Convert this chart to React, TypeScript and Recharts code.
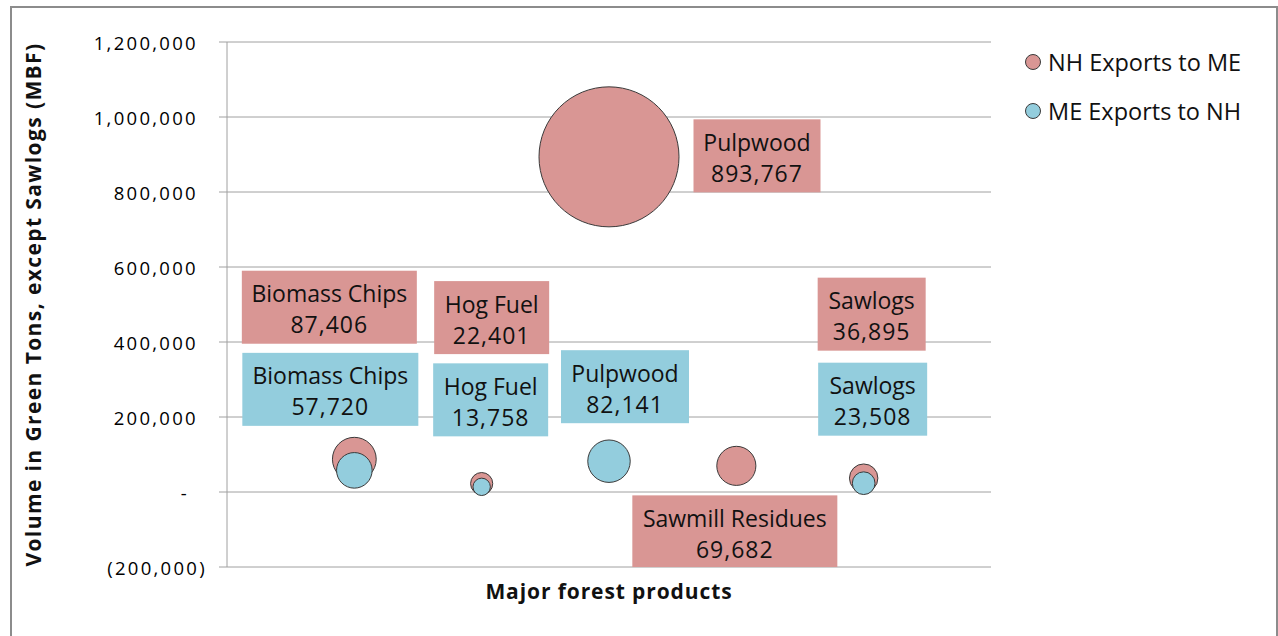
import React from 'react';
import { ScatterChart, Scatter, XAxis, YAxis, ZAxis, CartesianGrid } from 'recharts';

// ---------- data ----------
const categories = ['Biomass Chips', 'Hog Fuel', 'Pulpwood', 'Sawmill Residues', 'Sawlogs'];
const categoryPositions = [1, 2, 3, 4, 5];
const nhExportsToMe: (number | null)[] = [87406, 22401, 893767, 69682, 36895];
const meExportsToNh: (number | null)[] = [57720, 13758, 82141, null, 23508];
const seriesNames = ['NH Exports to ME', 'ME Exports to NH'];
const yTicks = [-200000, 0, 200000, 400000, 600000, 800000, 1000000, 1200000];
const yTickLabels = ['(200,000)', '-', '200,000', '400,000', '600,000', '800,000', '1,000,000', '1,200,000'];
const xAxisTitle = 'Major forest products';
const yAxisTitle = 'Volume in Green Tons, except Sawlogs (MBF)';

// ---------- style / layout ----------
const PINK = '#D99694';
const BLUE = '#93CDDD';
const GRID = '#A0A0A0';
const FONT = '"Open Sans", "DejaVu Sans", sans-serif';
const MAX_R = 70;

// label box placement relative to bubble centre (layout only)
const nhLabelLayout = [
  { dx: -25, dy: -152, w: 175 },
  { dx: 10, dy: -166, w: 115 },
  { dx: 148, dy: -1, w: 127 },
  { dx: -1.5, dy: 66, w: 205 },
  { dx: 8, dy: -164, w: 108 },
];
const meLabelLayout = [
  { dx: -24, dy: -81, w: 176 },
  { dx: 9, dy: -87, w: 115 },
  { dx: 16, dy: -74.5, w: 128 },
  null,
  { dx: 9, dy: -84, w: 109 },
];

const fmt = (v: number) => v.toLocaleString('en-US');

const buildSeries = (values: (number | null)[]) =>
  categories
    .map((name, i) => ({ name, x: categoryPositions[i], y: values[i], z: values[i], idx: i }))
    .filter((d) => d.y !== null);

const nhData = buildSeries(nhExportsToMe);
const meData = buildSeries(meExportsToNh);
const maxZ = Math.max(...(nhExportsToMe.filter((v) => v !== null) as number[]), ...(meExportsToNh.filter((v) => v !== null) as number[]));

const makeShape = (fill: string, layout: any[]) => (props: any) => {
  const { cx, cy, width, payload } = props;
  const r = width / 2;
  const lay = layout[payload.idx];
  return (
    <g>
      <circle cx={cx} cy={cy} r={r} fill={fill} stroke="#3a3a3a" strokeWidth={1} />
      {lay && (
        <g>
          <rect x={cx + lay.dx - lay.w / 2} y={cy + lay.dy - 36.5} width={lay.w} height={73} fill={fill} />
          <text x={cx + lay.dx} y={cy + lay.dy - 14} textAnchor="middle" dominantBaseline="central"
            fontFamily={FONT} fontSize={23} fill="#111">{payload.name}</text>
          <text x={cx + lay.dx} y={cy + lay.dy + 17} textAnchor="middle" dominantBaseline="central"
            fontFamily={FONT} fontSize={23} fill="#111" letterSpacing={1}>{fmt(payload.y)}</text>
        </g>
      )}
    </g>
  );
};

const YTick = (props: any) => {
  const { x, y, payload } = props;
  const i = yTicks.indexOf(payload.value);
  const label = yTickLabels[i];
  let endX = x - 19;
  if (label.endsWith(')')) endX = x - 10;
  else if (label === '-') endX = x - 28;
  return (
    <text x={endX} y={y} textAnchor="end" dominantBaseline="central" fontFamily={FONT} fontSize={18.5}
      letterSpacing={2.3} fill="#000">{label}</text>
  );
};

const YTitle = (props: any) => {
  const vb = props.viewBox;
  const cx = vb.x + 33;
  const cy = vb.y + vb.height / 2;
  return (
    <text x={cx} y={cy} transform={`rotate(-90, ${cx}, ${cy})`} textAnchor="middle" dominantBaseline="central"
      fontFamily={FONT} fontSize={21} fontWeight="bold" letterSpacing={1.4} fill="#111">{yAxisTitle}</text>
  );
};

const XTitle = (props: any) => {
  const vb = props.viewBox;
  const cx = vb.x + vb.width / 2;
  const cy = vb.y + 24;
  return (
    <text x={cx} y={cy} textAnchor="middle" dominantBaseline="central"
      fontFamily={FONT} fontSize={21} fontWeight="bold" letterSpacing={0.9} fill="#111">{xAxisTitle}</text>
  );
};

export default function App() {
  return (
    <div style={{ position: 'absolute', left: 0, top: 0, width: 1278, height: 636, overflow: 'hidden', background: '#fff' }}>
      <div style={{ position: 'absolute', left: 10, top: 6, width: 1264, height: 700, border: '2px solid #8c8c8c', boxSizing: 'content-box' }} />
      <div style={{ position: 'absolute', left: 0, top: 0 }}>
        <ScatterChart width={1278} height={636} margin={{ top: 42, right: 287, bottom: 0, left: 0 }}>
          <CartesianGrid horizontal vertical={false} stroke={GRID} strokeWidth={1} />
          <XAxis type="number" dataKey="x" domain={[0, 6]} allowDataOverflow height={69}
            axisLine={false} tickLine={false} tick={false} label={<XTitle />} />
          <YAxis type="number" dataKey="y" domain={[-200000, 1200000]} ticks={yTicks} width={227}
            allowDataOverflow tickSize={8} tickLine={{ stroke: GRID }} axisLine={{ stroke: GRID }}
            tick={<YTick />} label={<YTitle />} interval={0} />
          <ZAxis type="number" dataKey="z" domain={[0, maxZ]} range={[0, Math.PI * MAX_R * MAX_R]} />
          <Scatter name={seriesNames[0]} data={nhData} fill={PINK} isAnimationActive={false} shape={makeShape(PINK, nhLabelLayout)} />
          <Scatter name={seriesNames[1]} data={meData} fill={BLUE} isAnimationActive={false} shape={makeShape(BLUE, meLabelLayout)} />
        </ScatterChart>
      </div>
      {seriesNames.map((n, i) => (
        <div key={n} style={{ position: 'absolute', left: 1025, top: 46 + i * 48.5, height: 32, display: 'flex', alignItems: 'center', fontFamily: FONT, fontSize: 23.5, color: '#111', whiteSpace: 'nowrap' }}>
          <div style={{ width: 14, height: 14, borderRadius: '50%', background: i === 0 ? PINK : BLUE, border: '1px solid #3a3a3a', marginRight: 7 }} />
          <span>{n}</span>
        </div>
      ))}
    </div>
  );
}
